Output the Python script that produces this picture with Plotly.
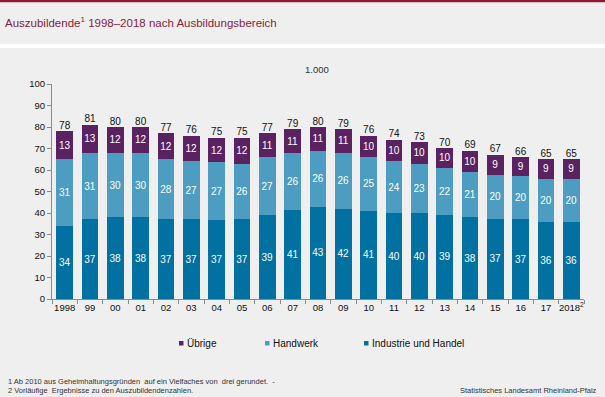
import plotly.graph_objects as go

# ---- data ----
years = ["1998", "99", "00", "01", "02", "03", "04", "05", "06", "07", "08",
         "09", "10", "11", "12", "13", "14", "15", "16", "17", "2018<sup>2</sup>"]
industrie = [34, 37, 38, 38, 37, 37, 36.7, 37, 39, 41.3, 43, 42, 41, 40, 40, 39.2, 38, 37.4, 37, 36, 36]
handwerk = [31, 31, 30, 30, 28, 27, 26.8, 26, 27, 26.4, 26, 26, 25, 24, 23, 21.6, 21, 20.4, 20, 20, 20]
uebrige = [13, 13, 12, 12, 12, 12, 11.6, 12, 11, 11.4, 11, 11, 10, 10, 10, 9.6, 10, 9.4, 9, 9, 9]
totals = [78, 81, 80, 80, 77, 76, 75, 75, 77, 79, 80, 79, 76, 74, 73, 70, 69, 67, 66, 65, 65]

series_names = ["Industrie und Handel", "Handwerk", "Übrige"]
colors = ["#0071a1", "#4c9dc1", "#5b2262"]

title_text = "Auszubildende<sup>1</sup> 1998–2018 nach Ausbildungsbereich"
unit_text = "1.000"
foot1 = "1 Ab 2010 aus Geheimhaltungsgründen  auf ein Vielfaches von  drei gerundet.  -"
foot2 = "2 Vorläufige  Ergebnisse zu den Auszubildendenzahlen."
source = "Statistisches Landesamt Rheinland-Pfalz"

# ---- layout geometry (pixels) ----
W, H = 605, 397
L, R, T, B = 52, 21, 84, 98
PW, PH = W - L - R, H - T - B


def px(x):
    return (x - L) / PW


def py(y):
    return (H - B - y) / PH


FONT = "Liberation Sans, Arial, sans-serif"
BG = "#eeefee"

fig = go.Figure()
for name, vals, col in zip(series_names, [industrie, handwerk, uebrige], colors):
    fig.add_trace(go.Bar(
        x=years, y=vals, name=name, marker=dict(color=col, line=dict(width=0)),
        texttemplate="%{y:.0f}", textposition="inside", insidetextanchor="middle",
        textangle=0, constraintext="none",
        textfont=dict(color="white", size=10, family=FONT),
        showlegend=False, hoverinfo="skip",
    ))

fig.add_trace(go.Scatter(
    x=years, y=totals, mode="text", text=[str(t) for t in totals],
    textposition="top center", textfont=dict(color="#111", size=10, family=FONT),
    showlegend=False, cliponaxis=False, hoverinfo="skip",
))

shapes = [
    # top maroon stripe
    dict(type="rect", xref="paper", yref="paper", x0=px(0), x1=px(W), y0=py(0), y1=py(2.2),
         fillcolor="#8c1c36", line=dict(width=0), layer="below"),
    # white separator stripe
    dict(type="rect", xref="paper", yref="paper", x0=px(0), x1=px(W), y0=py(44), y1=py(48),
         fillcolor="white", line=dict(width=0), layer="below"),
]

# manual legend
legend_items = [("Übrige", colors[2], 179), ("Handwerk", colors[1], 265), ("Industrie und Handel", colors[0], 364)]
annotations = []
for label, col, x0 in legend_items:
    shapes.append(dict(type="rect", xref="paper", yref="paper", x0=px(x0), x1=px(x0 + 4.5),
                       y0=py(345.5), y1=py(341), fillcolor=col, line=dict(width=0)))
    annotations.append(dict(text=label, x=px(x0 + 5.5), y=py(343.5), xref="paper", yref="paper",
                            xanchor="left", yanchor="middle", showarrow=False,
                            font=dict(size=10, color="#111", family=FONT)))

annotations += [
    dict(text=title_text, x=px(3), y=py(22), xref="paper", yref="paper", xanchor="left",
         yanchor="middle", showarrow=False, font=dict(size=11.5, color="#8c1c3c", family=FONT)),
    dict(text=unit_text, x=px(317), y=py(69), xref="paper", yref="paper", xanchor="center",
         yanchor="middle", showarrow=False, font=dict(size=9.5, color="#333", family=FONT)),
    dict(text=foot1, x=px(6), y=py(381.5), xref="paper", yref="paper", xanchor="left",
         yanchor="middle", showarrow=False, font=dict(size=7.5, color="#333", family=FONT)),
    dict(text=foot2, x=px(6), y=py(390.5), xref="paper", yref="paper", xanchor="left",
         yanchor="middle", showarrow=False, font=dict(size=7.5, color="#333", family=FONT)),
    dict(text=source, x=px(599), y=py(390.5), xref="paper", yref="paper", xanchor="right",
         yanchor="middle", showarrow=False, font=dict(size=7.5, color="#333", family=FONT)),
]

fig.update_layout(
    width=W, height=H, margin=dict(l=L, r=R, t=T, b=B, pad=0),
    paper_bgcolor=BG, plot_bgcolor=BG, barmode="stack", bargap=0.33,
    font=dict(family=FONT, color="#111"),
    shapes=shapes, annotations=annotations, showlegend=False,
    uniformtext=dict(mode=False),
)
fig.update_xaxes(
    type="category", range=[-0.5, 20.5], showgrid=False, showline=True, linecolor="#8a8a8a",
    linewidth=1, ticks="outside", tickson="boundaries", ticklen=4, tickcolor="#8a8a8a",
    tickangle=0, tickfont=dict(size=9.5, color="#111", family=FONT), zeroline=False, fixedrange=True,
)
fig.update_yaxes(
    range=[0, 100], dtick=10, showgrid=False, showline=True, linecolor="#8a8a8a",
    linewidth=1, ticks="outside", ticklen=4, tickcolor="#8a8a8a",
    tickfont=dict(size=9.5, color="#111", family=FONT), zeroline=False, fixedrange=True,
)

fig.write_html(
    "out.html",
    config={"displayModeBar": False},
    post_script="document.body.style.margin='0';document.body.style.overflow='hidden';",
)
